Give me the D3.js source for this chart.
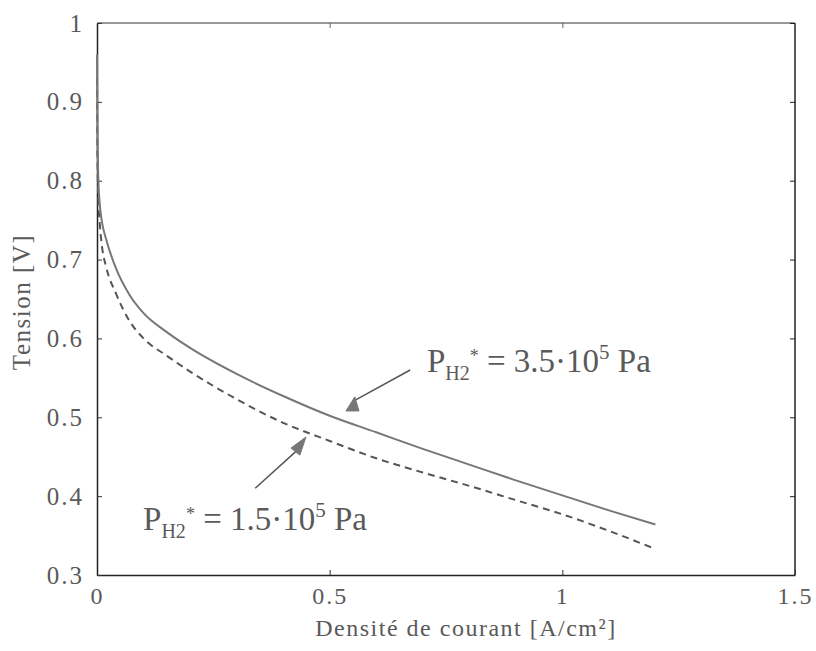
<!DOCTYPE html>
<html>
<head>
<meta charset="utf-8">
<script src="https://cdn.jsdelivr.net/npm/d3@7"></script>
<style>
  html, body { margin: 0; padding: 0; background: #fff; }
  svg { display: block; }
  text { font-family: "Liberation Serif", "Times New Roman", serif; fill: #5a5a5a; }
</style>
</head>
<body>
<div id="chart"></div>
<script>
// Current density [A/cm²]
const currentDensity = [0, 0.001, 0.003, 0.006, 0.01, 0.02, 0.04, 0.07, 0.1, 0.15, 0.2, 0.3, 0.4, 0.5, 0.6, 0.7, 0.8, 0.9, 1.0, 1.1, 1.2];
// P_H2* = 3.5e5 Pa (solid)
const voltageHigh = [0.96, 0.86, 0.80, 0.77, 0.75, 0.725, 0.69, 0.655, 0.632, 0.608, 0.588, 0.555, 0.527, 0.502, 0.481, 0.46, 0.44, 0.42, 0.401, 0.382, 0.364];
// P_H2* = 1.5e5 Pa (dashed)
const voltageLow = [0.93, 0.83, 0.775, 0.745, 0.72, 0.69, 0.658, 0.622, 0.6, 0.578, 0.558, 0.523, 0.493, 0.47, 0.448, 0.43, 0.413, 0.395, 0.377, 0.356, 0.333];

const xTicks = [0, 0.5, 1, 1.5];
const xTickLabels = ["0", "0.5", "1", "1.5"];
const yTicks = [0.3, 0.4, 0.5, 0.6, 0.7, 0.8, 0.9, 1];
const yTickLabels = ["0.3", "0.4", "0.5", "0.6", "0.7", "0.8", "0.9", "1"];

const xLabel = "Densité de courant [A/cm²]";
const yLabel = "Tension [V]";

// annotations (data units)
const annHighText = { x: 0.709, y: 0.557, value: "3.5" };
const annHighLine = [[0.673, 0.560], [0.556, 0.522]];
const annHighHead = [[0.535, 0.508], [0.563, 0.508], [0.554, 0.526]];
const annLowText = { x: 0.099, y: 0.357, value: "1.5" };
const annLowLine = [[0.340, 0.410], [0.430, 0.458]];
const annLowHead = [[0.417, 0.461], [0.436, 0.452], [0.449, 0.475]];

const W = 816, H = 651;
const margin = { left: 97, right: 21, top: 23, bottom: 76 };

const svg = d3.select("#chart").append("svg").attr("width", W).attr("height", H);

const x = d3.scaleLinear().domain([0, 1.5]).range([margin.left, W - margin.right]);
const y = d3.scaleLinear().domain([0.3, 1]).range([H - margin.bottom, margin.top]);

// Frame
const x0 = x(0), x1 = x(1.5), y0 = y(0.3), y1 = y(1);
svg.append("line").attr("x1", x0).attr("x2", x1).attr("y1", y1).attr("y2", y1).attr("stroke", "#777").attr("stroke-width", 1.5);
svg.append("line").attr("x1", x1).attr("x2", x1).attr("y1", y1).attr("y2", y0).attr("stroke", "#222").attr("stroke-width", 1.5);

// Bottom axis
const xAxis = d3.axisBottom(x).tickValues(xTicks).tickFormat((d, i) => xTickLabels[i]).tickSizeInner(-5).tickSizeOuter(0).tickPadding(12);
const gx = svg.append("g").attr("transform", `translate(0,${y0})`).call(xAxis);
gx.select(".domain").attr("stroke", "#222").attr("stroke-width", 1.5);
gx.selectAll(".tick line").attr("stroke", "#333");
gx.selectAll(".tick text").attr("font-size", 24).attr("letter-spacing", 2).attr("fill", "#5a5a5a")
  .style("font-family", "Liberation Serif");

// Top ticks
const xTop = d3.axisTop(x).tickValues(xTicks).tickFormat("").tickSizeInner(-5).tickSizeOuter(0);
const gxt = svg.append("g").attr("transform", `translate(0,${y1})`).call(xTop);
gxt.select(".domain").remove();
gxt.selectAll(".tick line").attr("stroke", "#666");

// Left axis
const yAxis = d3.axisLeft(y).tickValues(yTicks).tickFormat((d, i) => yTickLabels[i]).tickSizeInner(-5).tickSizeOuter(0).tickPadding(13);
const gy = svg.append("g").attr("transform", `translate(${x0},0)`).call(yAxis);
gy.select(".domain").attr("stroke", "#222").attr("stroke-width", 1.5);
gy.selectAll(".tick line").attr("stroke", "#333");
gy.selectAll(".tick text").attr("font-size", 25).attr("letter-spacing", 2).attr("fill", "#5a5a5a")
  .style("font-family", "Liberation Serif");

// Right ticks
const yRight = d3.axisRight(y).tickValues(yTicks).tickFormat("").tickSizeInner(-5).tickSizeOuter(0);
const gyr = svg.append("g").attr("transform", `translate(${x1},0)`).call(yRight);
gyr.select(".domain").remove();
gyr.selectAll(".tick line").attr("stroke", "#222");

// Axis labels
svg.append("text").attr("x", (x0 + x1) / 2 + 20).attr("y", 636).attr("text-anchor", "middle")
  .attr("font-size", 24).attr("letter-spacing", 1.5).text(xLabel);
svg.append("text").attr("transform", `translate(30,${302}) rotate(-90)`).attr("text-anchor", "middle")
  .attr("font-size", 25).attr("letter-spacing", 1.5).text(yLabel);

// Curves
const line = d3.line().x(d => x(d[0])).y(d => y(d[1])).curve(d3.curveMonotoneX);
const highData = currentDensity.map((c, i) => [c, voltageHigh[i]]);
const lowData = currentDensity.map((c, i) => [c, voltageLow[i]]);

svg.append("path").datum(lowData).attr("d", line).attr("fill", "none")
  .attr("stroke", "#555").attr("stroke-width", 2).attr("stroke-dasharray", "7,5");
svg.append("path").datum(highData).attr("d", line).attr("fill", "none")
  .attr("stroke", "#777").attr("stroke-width", 2);

// Annotations
function drawAnn(textPos, lineData, headData) {
  svg.append("line")
    .attr("x1", x(lineData[0][0])).attr("y1", y(lineData[0][1]))
    .attr("x2", x(lineData[1][0])).attr("y2", y(lineData[1][1]))
    .attr("stroke", "#555").attr("stroke-width", 1.5);
  svg.append("polygon").attr("points", headData.map(p => `${x(p[0])},${y(p[1])}`).join(" "))
    .attr("fill", "#777").attr("stroke", "#777").attr("stroke-width", 1);
  const t = svg.append("text").attr("x", x(textPos.x)).attr("y", y(textPos.y)).attr("font-size", 33);
  t.append("tspan").text("P");
  t.append("tspan").attr("font-size", 20).attr("dy", 8).text("H2");
  t.append("tspan").attr("font-size", 18).attr("dy", -18).text("*");
  t.append("tspan").attr("dy", 10).text(" = " + textPos.value + "·10");
  t.append("tspan").attr("font-size", 21).attr("dy", -13).text("5");
  t.append("tspan").attr("dy", 13).text(" Pa");
}
drawAnn(annHighText, annHighLine, annHighHead);
drawAnn(annLowText, annLowLine, annLowHead);
</script>
</body>
</html>
